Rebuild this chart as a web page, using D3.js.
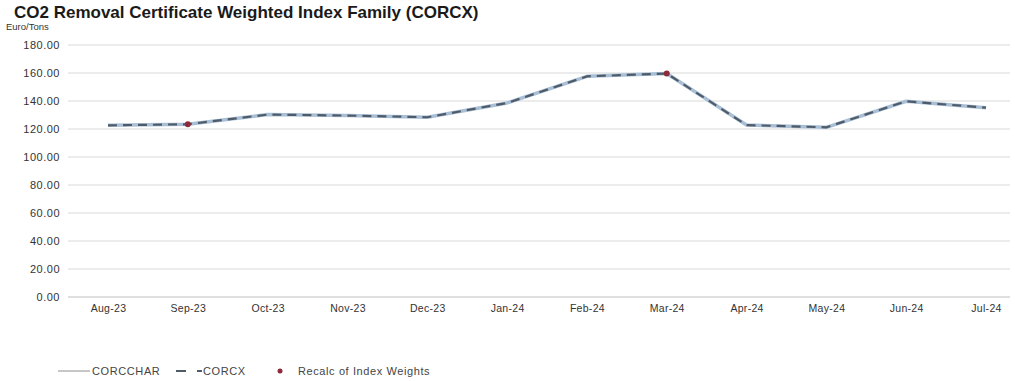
<!DOCTYPE html>
<html>
<head>
<meta charset="utf-8">
<script src="https://cdn.jsdelivr.net/npm/d3@7"></script>
<style>
  html, body { margin: 0; padding: 0; background: #fff; }
  svg text { font-family: "Liberation Sans", Arial, sans-serif; }
</style>
</head>
<body>
<svg id="chart" width="1015" height="381"></svg>
<script>
// Month categories on the x axis
const months = ['Aug-23', 'Sep-23', 'Oct-23', 'Nov-23', 'Dec-23', 'Jan-24',
  'Feb-24', 'Mar-24', 'Apr-24', 'May-24', 'Jun-24', 'Jul-24'];

// Index values (Euro/Tons)
const corcchar = [122.6, 123.4, 130.3, 129.6, 128.4, 138.6, 157.6, 159.6, 122.8, 121.2, 139.8, 135.2];
const corcx = [122.6, 123.4, 130.3, 129.6, 128.4, 138.6, 157.6, 159.6, 122.8, 121.2, 139.8, 135.2];

// Recalculation of index weights
const recalcMonths = ['Sep-23', 'Mar-24'];
const recalcValues = [123.4, 159.6];

const yTicks = [0, 20, 40, 60, 80, 100, 120, 140, 160, 180];

const svg = d3.select('#chart');
const plot = { left: 68, right: 1010, top: 45, bottom: 297 };

const x = d3.scalePoint().domain(months).range([108, 986]);
const y = d3.scaleLinear().domain([0, 180]).range([plot.bottom, plot.top]);

// Title
svg.append('text')
  .attr('x', 14).attr('y', 18)
  .attr('font-size', 17).attr('font-weight', 'bold').attr('fill', '#1a1a1a')
  .text('CO2 Removal Certificate Weighted Index Family (CORCX)');

svg.append('text')
  .attr('x', 6).attr('y', 30)
  .attr('font-size', 9.5).attr('fill', '#333')
  .text('Euro/Tons');

// Gridlines
svg.append('g')
  .selectAll('line')
  .data(yTicks)
  .join('line')
  .attr('x1', plot.left).attr('x2', plot.right)
  .attr('y1', d => y(d)).attr('y2', d => y(d))
  .attr('stroke', d => d === 0 ? '#d4d4d4' : '#e6e6e6')
  .attr('stroke-width', 1.5);

const fontFam = '"Liberation Sans", Arial, sans-serif';

// Y axis labels
const yAxis = d3.axisLeft(y).tickValues(yTicks).tickFormat(d3.format('.2f')).tickSize(0).tickPadding(0);
svg.append('g')
  .attr('transform', 'translate(60,0)')
  .call(yAxis)
  .call(g => g.select('.domain').remove())
  .call(g => g.selectAll('text').attr('font-size', 11).attr('letter-spacing', 0.5)
    .attr('fill', '#333').attr('font-family', fontFam));

// X axis labels
const xAxis = d3.axisBottom(x).tickSize(0).tickPadding(0);
svg.append('g')
  .attr('transform', `translate(0,${plot.bottom + 8})`)
  .call(xAxis)
  .call(g => g.select('.domain').remove())
  .call(g => g.selectAll('text').attr('font-size', 10.5).attr('letter-spacing', 0.3)
    .attr('fill', '#333').attr('font-family', fontFam));

// Lines
const line = d3.line()
  .x((d, i) => x(months[i]))
  .y(d => y(d));

svg.append('path')
  .datum(corcchar)
  .attr('d', line)
  .attr('fill', 'none')
  .attr('stroke', '#a9bfd6')
  .attr('stroke-width', 3.5)
  .attr('stroke-linejoin', 'round');

svg.append('path')
  .datum(corcx)
  .attr('d', line)
  .attr('fill', 'none')
  .attr('stroke', '#4f5b68')
  .attr('stroke-width', 2.2)
  .attr('stroke-dasharray', '9,6');

// Recalc markers
svg.append('g')
  .selectAll('circle')
  .data(recalcValues)
  .join('circle')
  .attr('cx', (d, i) => x(recalcMonths[i]))
  .attr('cy', d => y(d))
  .attr('r', 3)
  .attr('fill', '#8e2b3b');

// Legend
const legend = svg.append('g').attr('transform', 'translate(0,371)');
const legendText = (xPos, label) => legend.append('text')
  .attr('x', xPos).attr('y', 4)
  .attr('font-size', 11).attr('letter-spacing', 0.6).attr('fill', '#444')
  .text(label);

legend.append('line')
  .attr('x1', 58).attr('x2', 90).attr('y1', 0).attr('y2', 0)
  .attr('stroke', '#b5b5b5').attr('stroke-width', 1.5);
legendText(92, 'CORCCHAR');
legend.append('line')
  .attr('x1', 176).attr('x2', 202).attr('y1', 0).attr('y2', 0)
  .attr('stroke', '#4f5b68').attr('stroke-width', 2.2)
  .attr('stroke-dasharray', '10,11');
legendText(203, 'CORCX');
legend.append('circle')
  .attr('cx', 280).attr('cy', 0).attr('r', 2.5).attr('fill', '#8e2b3b');
legendText(298, 'Recalc of Index Weights');
</script>
</body>
</html>
